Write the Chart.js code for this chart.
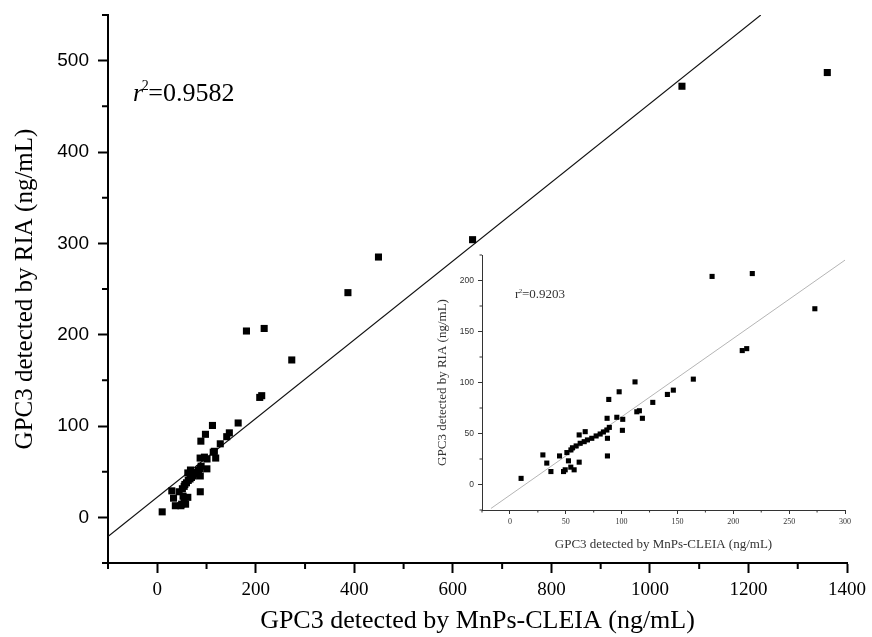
<!DOCTYPE html>
<html>
<head>
<meta charset="utf-8">
<script src="https://cdn.jsdelivr.net/npm/chart.js@4"></script>
<style>
  html,body{margin:0;padding:0;background:#fff;}
  #wrap{position:relative;width:872px;height:637px;overflow:hidden;background:#fff;}
  #main{position:absolute;left:0;top:0;}
  #inset{position:absolute;left:425px;top:240px;}
</style>
</head>
<body>
<div id="wrap">
<canvas id="main" width="872" height="637"></canvas>
<canvas id="inset" width="440" height="320"></canvas>
</div>
<script>
// ---- data ----
// samples measured by both methods (ng/mL)
const cleiaLow = [10, 29.5, 33, 36.7, 44.4, 48, 49.5, 52.4, 54.5, 57.5, 62, 51, 54.6, 56, 59.3, 62.9, 66.5, 69.4, 73.3, 77.2, 80.8, 83.7, 86.8, 89, 62, 67.4, 87, 95.7, 87.3, 87.3, 101, 100.7, 112, 97.8, 88.5, 113.6, 115.9, 118.6, 127.9, 141, 146.3, 164.2, 208, 212, 181, 217, 273];
const riaLow   = [6, 29, 21, 12.7, 28, 12.7, 14.4, 23.2, 17, 14.4, 21.9, 31.3, 33.9, 36, 37.8, 40.4, 42, 43.7, 45.3, 47.6, 49.5, 51.5, 53.4, 56, 48.6, 51.8, 64.9, 65.9, 45.3, 28, 63.9, 53.1, 100.6, 90.9, 83.4, 71.3, 72.3, 64.9, 80.5, 88.3, 92.5, 103.3, 131.3, 133.2, 204, 206.8, 172.3];
// extra high samples shown only in the main plot
const cleiaHigh = [387, 449, 640, 1065, 1360];
const riaHigh   = [246, 285, 304, 472, 487];
// fitted lines (end points)
const mainFitX = [-100, 1225];
const mainFitY = [-21, 550];
const insetFitX = [-17, 300];
const insetFitY = [-23.5, 220];
// axis ticks
const mainXTicks = [0, 200, 400, 600, 800, 1000, 1200, 1400];
const mainXMinor = [-100, 100, 300, 500, 700, 900, 1100, 1300];
const mainYTicks = [0, 100, 200, 300, 400, 500];
const mainYMinor = [-50, 50, 150, 250, 350, 450, 550];
const insetXTicks = [0, 50, 100, 150, 200, 250, 300];
const insetXMinor = [-25, 25, 75, 125, 175, 225, 275];
const insetYTicks = [0, 50, 100, 150, 200];
const insetYMinor = [-25, 25, 75, 125, 175, 225];
const mainR2 = '0.9582';
const insetR2 = '0.9203';
const xTitle = 'GPC3 detected by MnPs-CLEIA (ng/mL)';
const yTitle = 'GPC3 detected by RIA (ng/mL)';

const zip = (xs, ys) => xs.map((x, i) => ({x, y: ys[i]}));
const plain = v => String(v);

const SERIF = "'Liberation Serif', 'Times New Roman', serif";
const SANS = "'Liberation Sans', Arial, sans-serif";

const minorTicksPlugin = {
  id: 'minorTicks',
  afterDraw(chart, args, opts) {
    const ctx = chart.ctx;
    (opts.items || []).forEach(it => {
      const s = chart.scales[it.axis];
      ctx.save();
      ctx.strokeStyle = it.color;
      ctx.lineWidth = it.width;
      ctx.beginPath();
      it.values.forEach(v => {
        const p = s.getPixelForValue(v);
        if (s.isHorizontal()) {
          ctx.moveTo(p, s.top);
          ctx.lineTo(p, s.top + it.len);
        } else {
          ctx.moveTo(s.right, p);
          ctx.lineTo(s.right - it.len, p);
        }
      });
      ctx.stroke();
      ctx.restore();
    });
    if (opts.r2) {
      const r = opts.r2;
      const ca = chart.chartArea;
      let x = ca.left + r.dx, y = ca.top + r.dy;
      ctx.save();
      ctx.fillStyle = r.color;
      ctx.textBaseline = 'alphabetic';
      ctx.font = (r.italic ? 'italic ' : '') + r.size + 'px ' + SERIF;
      ctx.fillText('r', x, y);
      x += ctx.measureText('r').width;
      ctx.font = Math.round(r.size * 0.55) + 'px ' + SERIF;
      ctx.fillText('2', x - r.size * 0.05, y - r.size * 0.42);
      x += ctx.measureText('2').width * 0.75;
      ctx.font = r.size + 'px ' + SERIF;
      ctx.fillText('=' + r.value, x, y);
      ctx.restore();
    }
  }
};

function setTicks(values) {
  return scale => { scale.ticks = values.map(v => ({value: v})); };
}

// ---- main chart ----
new Chart(document.getElementById('main'), {
  type: 'scatter',
  data: {
    datasets: [
      {
        data: zip(cleiaLow, riaLow).concat(zip(cleiaHigh, riaHigh)),
        pointStyle: 'rect', pointRadius: 5, backgroundColor: '#000', borderWidth: 0
      },
      {
        data: zip(mainFitX, mainFitY), showLine: true, pointRadius: 0,
        borderColor: '#111', borderWidth: 1.1, fill: false
      }
    ]
  },
  options: {
    responsive: false, animation: false, devicePixelRatio: 1,
    layout: {padding: {top: 15, right: 22, left: 10, bottom: 0}},
    plugins: {
      legend: {display: false}, tooltip: {enabled: false},
      minorTicks: {
        items: [
          {axis: 'x', values: mainXMinor, len: 6, width: 2, color: '#000'},
          {axis: 'y', values: mainYMinor, len: 6, width: 2, color: '#000'}
        ],
        r2: {dx: 25, dy: 86, size: 26, italic: true, value: mainR2, color: '#000'}
      }
    },
    scales: {
      x: {
        type: 'linear', min: -100, max: 1400,
        afterBuildTicks: setTicks(mainXTicks),
        afterFit: s => { s.height = 74; },
        border: {display: true, color: '#000', width: 2},
        grid: {drawOnChartArea: false, drawTicks: true, tickLength: 10, tickWidth: 2, tickColor: '#000'},
        ticks: {font: {family: SERIF, size: 19}, color: '#000', padding: 6, maxRotation: 0, autoSkip: false, callback: plain},
        title: {display: true, text: xTitle, font: {family: SERIF, size: 26}, color: '#000', padding: 0}
      },
      y: {
        type: 'linear', min: -50, max: 550,
        afterBuildTicks: setTicks(mainYTicks),
        afterFit: s => { s.width = 98; s.paddingTop = 0; s.paddingBottom = 0; },
        border: {display: true, color: '#000', width: 2},
        grid: {drawOnChartArea: false, drawTicks: true, tickLength: 10, tickWidth: 2, tickColor: '#000'},
        ticks: {font: {family: SANS, size: 19}, color: '#000', padding: 9, autoSkip: false, callback: plain},
        title: {display: true, text: yTitle, font: {family: SERIF, size: 25}, color: '#000', padding: 0}
      }
    }
  },
  plugins: [minorTicksPlugin]
});

// ---- inset chart ----
new Chart(document.getElementById('inset'), {
  type: 'scatter',
  data: {
    datasets: [
      {
        data: zip(cleiaLow, riaLow),
        pointStyle: 'rect', pointRadius: 3.6, backgroundColor: '#000', borderWidth: 0
      },
      {
        data: zip(insetFitX, insetFitY), showLine: true, pointRadius: 0,
        borderColor: '#b5b5b5', borderWidth: 1, fill: false
      }
    ]
  },
  options: {
    responsive: false, animation: false, devicePixelRatio: 1,
    layout: {padding: {top: 15, right: 20, left: 10, bottom: 8}},
    plugins: {
      legend: {display: false}, tooltip: {enabled: false},
      minorTicks: {
        items: [
          {axis: 'x', values: insetXMinor, len: 2.5, width: 1, color: '#333'},
          {axis: 'y', values: insetYMinor, len: 2.5, width: 1, color: '#333'}
        ],
        r2: {dx: 33, dy: 43, size: 13, italic: false, value: insetR2, color: '#333'}
      }
    },
    scales: {
      x: {
        type: 'linear', min: -25, max: 300,
        afterBuildTicks: setTicks(insetXTicks),
        afterFit: s => { s.height = 42; },
        border: {display: true, color: '#333', width: 1},
        grid: {drawOnChartArea: false, drawTicks: true, tickLength: 4, tickWidth: 1, tickColor: '#333'},
        ticks: {font: {family: SERIF, size: 8}, color: '#333', padding: 3, maxRotation: 0, autoSkip: false, callback: plain},
        title: {display: true, text: xTitle, font: {family: SERIF, size: 13}, color: '#333', padding: 0}
      },
      y: {
        type: 'linear', min: -25, max: 225,
        afterBuildTicks: setTicks(insetYTicks),
        afterFit: s => { s.width = 47; },
        border: {display: true, color: '#333', width: 1},
        grid: {drawOnChartArea: false, drawTicks: true, tickLength: 4, tickWidth: 1, tickColor: '#333'},
        ticks: {font: {family: SANS, size: 8.5}, color: '#333', padding: 4, autoSkip: false, callback: plain},
        title: {display: true, text: yTitle, font: {family: SERIF, size: 13}, color: '#333', padding: 0}
      }
    }
  },
  plugins: [minorTicksPlugin]
});
</script>
</body>
</html>
